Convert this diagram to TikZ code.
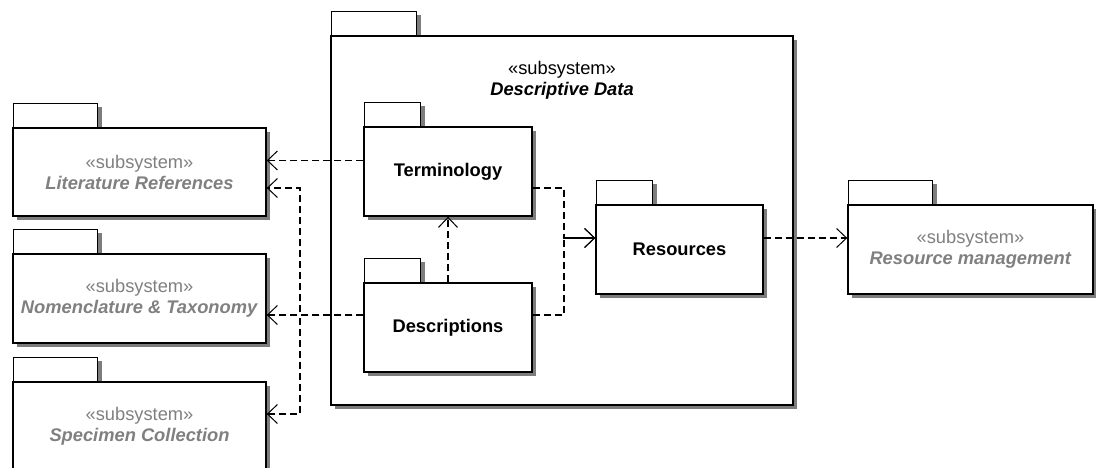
\documentclass[tikz,border=0pt]{standalone}
\usepackage{fontspec}
\setmainfont{Liberation Sans}
\usetikzlibrary{arrows.meta,shadows}
\definecolor{extgray}{RGB}{128,128,128}
\definecolor{shadowgray}{RGB}{125,125,125}
\tikzset{
  pkg/.style={draw, line width=1.4pt, fill=white, inner sep=0pt, align=center,
    drop shadow={shadow xshift=4pt,shadow yshift=-4pt,opacity=1,fill=shadowgray},
    font=\fontsize{18.3}{21}\selectfont},
  pkgtab/.style={pkg, minimum height=24pt, anchor=south west},
  extpkg/.style={pkg, text=extgray},
  dep/.style={line width=1.8pt, dash pattern=on 7pt off 4pt,
    -{Straight Barb[length=10pt,width=19pt,line width=1pt]}},
}
\begin{document}
\begin{tikzpicture}[x=1pt,y=-1pt]
        \useasboundingbox (0,0) rectangle (1096,468);

        % Paquete principal
        \node[pkgtab, minimum width=85pt] (dd-tab) at (331,36) {};
        \node[pkg, minimum width=462pt, minimum height=369pt] (dd) at (562,220.5) {};
        \node (dd-title) at (562,80) [font=\fontsize{18.3}{21}\selectfont, align=center]
            {«subsystem»\\\textbf{\textit{Descriptive Data}}};

        % Paquetes internos
        \node[pkgtab, minimum width=56pt] (term-tab) at (364,127) {};
        \node[pkg, minimum width=168pt, minimum height=89pt] (term) at (448,171.5) {\textbf{Terminology}};
        \node[pkgtab, minimum width=56pt] (desc-tab) at (364,283) {};
        \node[pkg, minimum width=168pt, minimum height=89pt] (desc) at (448,327.5) {\textbf{Descriptions}};
        \node[pkgtab, minimum width=56pt] (res-tab) at (596,205) {};
        \node[pkg, minimum width=167pt, minimum height=89pt] (res) at (679.5,249.5) {\textbf{Resources}};

        % Subsistemas externos
        \node[pkgtab, minimum width=84pt] (lit-tab) at (13,128) {};
        \node[extpkg, minimum width=253pt, minimum height=88pt] (lit) at (139.5,172)
            {«subsystem»\\\textbf{\textit{Literature References}}};
        \node[pkgtab, minimum width=84pt] (nom-tab) at (13,254) {};
        \node[extpkg, minimum width=253pt, minimum height=89pt] (nom) at (139.5,298.5)
            {«subsystem»\\\textbf{\textit{Nomenclature \& Taxonomy}}};
        \node[pkgtab, minimum width=84pt] (spec-tab) at (13,382) {};
        \node[extpkg, minimum width=253pt, minimum height=88pt] (spec) at (139.5,426)
            {«subsystem»\\\textbf{\textit{Specimen Collection}}};
        \node[pkgtab, minimum width=84pt] (rm-tab) at (848,205) {};
        \node[extpkg, minimum width=245pt, minimum height=89pt] (rm) at (970.5,249.5)
            {«subsystem»\\\textbf{\textit{Resource management}}};

        % Puntos de las dependencias
        \coordinate (tl) at ([yshift=11pt]term.west);
        \coordinate (tr) at ([yshift=-16.5pt]term.east);
        \coordinate (dl) at ([yshift=12.5pt]desc.west);
        \coordinate (dr) at ([yshift=12.5pt]desc.east);
        \coordinate (litin) at ([yshift=-16pt]lit.east);
        \coordinate (specin) at ([yshift=12pt]spec.east);
        \coordinate (resin) at ([yshift=11.5pt]res.west);
        \coordinate (resout) at ([yshift=11.5pt]res.east);
        \coordinate (xl) at (300,0);
        \coordinate (xr) at (564,0);

        % Dependencias
        \draw[dep] (tl) -- (tl -| lit.east);
        \draw[dep] (dl) -- (dl -| nom.east);
        \draw[dep] (dl) -| (litin -| xl) -- (litin);
        \draw[dep] (dl) -| (specin -| xl) -- (specin);
        \draw[dep] (desc.north) -- (term.south);
        \draw[dep] (tr) -| (resin -| xr) -- (resin);
        \draw[dep] (dr) -| (resin -| xr) -- (resin);
        \draw[dep] (resout) -- (resout -| rm.west);
    \end{tikzpicture}
\end{document}
